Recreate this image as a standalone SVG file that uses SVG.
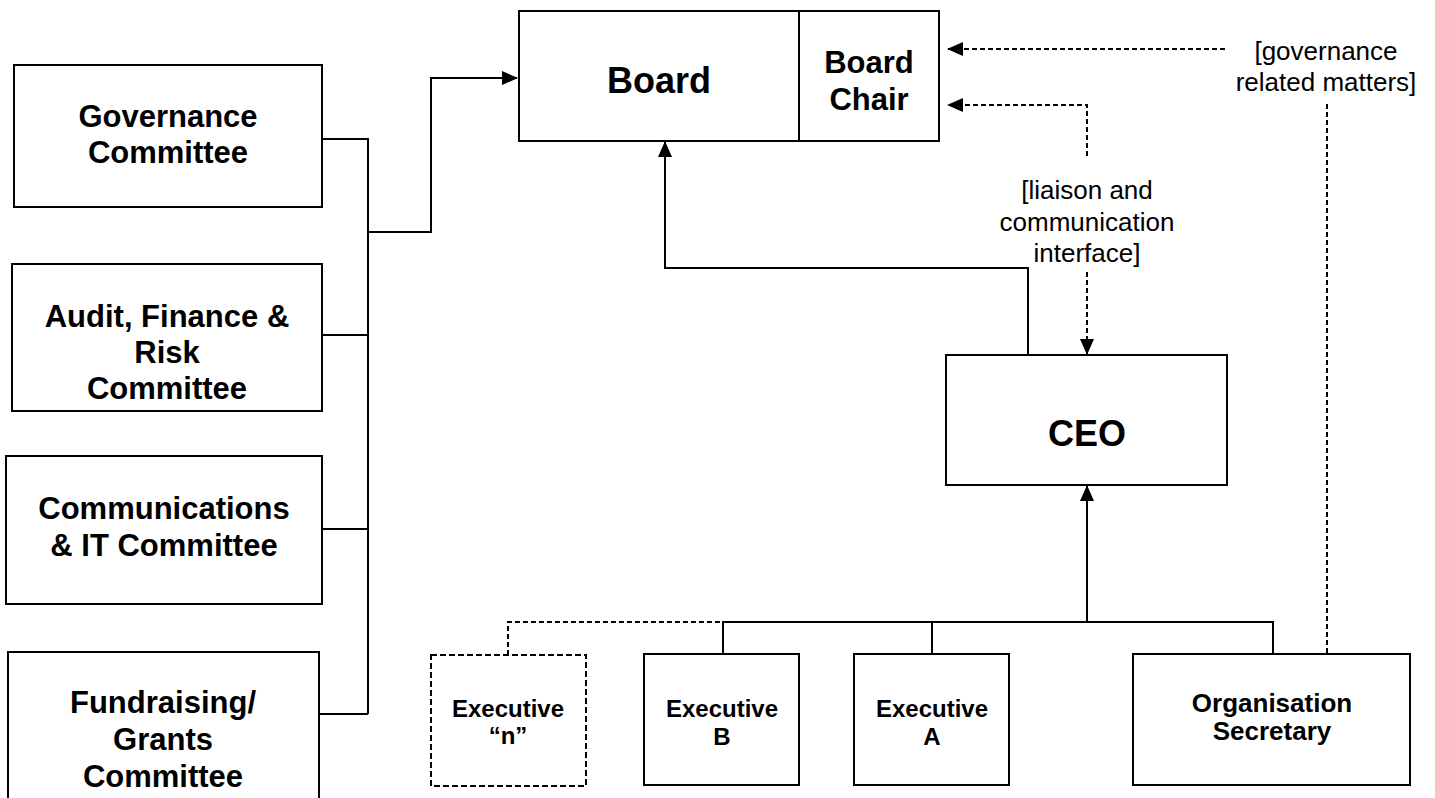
<svg xmlns="http://www.w3.org/2000/svg" width="1435" height="798" viewBox="0 0 1435 798">
<style>
.box{fill:#fff;stroke:#000;stroke-width:2}
.dbox{fill:#fff;stroke:#000;stroke-width:2;stroke-dasharray:6 3}
.ln{fill:none;stroke:#000;stroke-width:2}
.dl{fill:none;stroke:#000;stroke-width:2;stroke-dasharray:5 3}
text{font-family:"Liberation Sans",Arial,sans-serif;text-anchor:middle;fill:#000}
.b36{font-size:36px;font-weight:bold}
.b31{font-size:31px;font-weight:bold}
.b26{font-size:26px;font-weight:bold}
.b24{font-size:24px;font-weight:bold}
.n26{font-size:26px}
</style>
<defs>
<marker id="ah" markerWidth="16" markerHeight="14" refX="15" refY="7" orient="auto" markerUnits="userSpaceOnUse">
<path d="M0,0 L16,7 L0,14 z" fill="#000"/>
</marker>
</defs>
<rect width="1435" height="798" fill="#fff"/>
<g id="connectors">
<path class="ln" d="M322,139 H368 V714"/>
<path class="ln" d="M322,335 H368"/>
<path class="ln" d="M322,529 H368"/>
<path class="ln" d="M319,714 H368"/>
<path class="ln" d="M368,232 H431 V78 H517" marker-end="url(#ah)"/>
<path class="ln" d="M1028,354 V268 H665 V142" marker-end="url(#ah)"/>
<path class="ln" d="M1087,622 V486" marker-end="url(#ah)"/>
<path class="ln" d="M723,654 V622 H1273 V654"/>
<path class="ln" d="M932,622 V654"/>
<path class="dl" d="M508,655 V622 H740"/>
<path class="dl" d="M1225,49 H948" marker-end="url(#ah)"/>
<path class="dl" d="M1087,156 V105 H948" marker-end="url(#ah)"/>
<path class="dl" d="M1087,272 V354" marker-end="url(#ah)"/>
<path class="dl" d="M1327,104 V654"/>
</g>
<g id="governance-committee">
<rect class="box" x="14" y="65" width="308" height="142"/>
<text class="b31" x="168" y="127">Governance</text>
<text class="b31" x="168" y="163">Committee</text>
</g>
<g id="audit-committee">
<rect class="box" x="12" y="264" width="310" height="147"/>
<text class="b31" x="167" y="327">Audit, Finance &amp;</text>
<text class="b31" x="167" y="363">Risk</text>
<text class="b31" x="167" y="399">Committee</text>
</g>
<g id="comms-committee">
<rect class="box" x="6" y="456" width="316" height="148"/>
<text class="b31" x="164" y="519">Communications</text>
<text class="b31" x="164" y="556">&amp; IT Committee</text>
</g>
<g id="fundraising-committee">
<rect class="box" x="8" y="652" width="311" height="160"/>
<text class="b31" x="163" y="713">Fundraising/</text>
<text class="b31" x="163" y="750">Grants</text>
<text class="b31" x="163" y="787">Committee</text>
</g>
<g id="board">
<rect class="box" x="519" y="11" width="280" height="130"/>
<text class="b36" x="659" y="93">Board</text>
</g>
<g id="board-chair">
<rect class="box" x="799" y="11" width="140" height="130"/>
<text class="b31" x="869" y="73">Board</text>
<text class="b31" x="869" y="110">Chair</text>
</g>
<g id="ceo">
<rect class="box" x="946" y="355" width="281" height="130"/>
<text class="b36" x="1087" y="446">CEO</text>
</g>
<g id="executive-n">
<rect class="dbox" x="431" y="655" width="155" height="131"/>
<text class="b24" x="508" y="717">Executive</text>
<text class="b24" x="508" y="744">“n”</text>
</g>
<g id="executive-b">
<rect class="box" x="644" y="654" width="155" height="131"/>
<text class="b24" x="722" y="717">Executive</text>
<text class="b24" x="722" y="745">B</text>
</g>
<g id="executive-a">
<rect class="box" x="854" y="654" width="155" height="131"/>
<text class="b24" x="932" y="717">Executive</text>
<text class="b24" x="932" y="745">A</text>
</g>
<g id="organisation-secretary">
<rect class="box" x="1133" y="654" width="277" height="131"/>
<text class="b26" x="1272" y="712">Organisation</text>
<text class="b26" x="1272" y="740">Secretary</text>
</g>
<g id="labels">
<text class="n26" x="1326" y="60">[governance</text>
<text class="n26" x="1326" y="91">related matters]</text>
<text class="n26" x="1087" y="199">[liaison and</text>
<text class="n26" x="1087" y="231">communication</text>
<text class="n26" x="1087" y="262">interface]</text>
</g>
</svg>
